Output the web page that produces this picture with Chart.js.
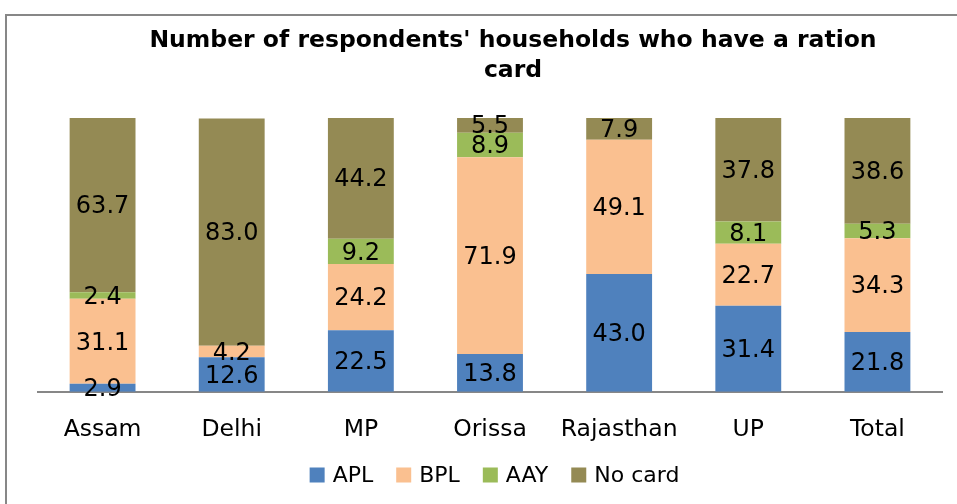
<!DOCTYPE html>
<html>
<head>
<meta charset="utf-8">
<script src="https://cdn.jsdelivr.net/npm/chart.js@4.4.0/dist/chart.umd.min.js"></script>
<style>
  html, body { margin: 0; padding: 0; background: #fff; overflow: hidden; }
  #wrap { position: relative; width: 957px; height: 504px; }
</style>
</head>
<body>
<div id="wrap"><canvas id="chart" width="957" height="504"></canvas></div>
<script>
// Chart data
const states = ['Assam', 'Delhi', 'MP', 'Orissa', 'Rajasthan', 'UP', 'Total'];
const apl    = [2.9, 12.6, 22.5, 13.8, 43.0, 31.4, 21.8];
const bpl    = [31.1, 4.2, 24.2, 71.9, 49.1, 22.7, 34.3];
const aay    = [2.4, 0, 9.2, 8.9, 0, 8.1, 5.3];
const noCard = [63.7, 83.0, 44.2, 5.5, 7.9, 37.8, 38.6];
const titleLines = ["Number of respondents' households who have a ration", 'card'];

const FONT = "'DejaVu Sans', sans-serif";

// frame + title drawn by hand (the original frame runs off the right/bottom edge)
const framePlugin = {
    id: 'frame',
    beforeDraw(chart) {
        const ctx = chart.ctx;
        ctx.save();
        ctx.fillStyle = '#fff';
        ctx.fillRect(0, 0, chart.width, chart.height);
        ctx.strokeStyle = '#878787';
        ctx.lineWidth = 2;
        ctx.beginPath();
        ctx.moveTo(6, chart.height + 5);
        ctx.lineTo(6, 15);
        ctx.lineTo(chart.width + 5, 15);
        ctx.stroke();
        ctx.restore();
    },
    afterDraw(chart) {
        const ctx = chart.ctx;
        ctx.save();
        ctx.fillStyle = '#000';
        ctx.font = 'bold 23.5px ' + FONT;
        ctx.textAlign = 'center';
        ctx.textBaseline = 'middle';
        titleLines.forEach((line, i) => ctx.fillText(line, 513, 41 + i * 30));

        // legend, built from the datasets
        ctx.font = '22px ' + FONT;
        ctx.textAlign = 'left';
        const box = 15, gap = 8, spacing = 23;
        const items = chart.data.datasets.map(ds => ({
            label: ds.label, color: ds.backgroundColor,
            w: box + gap + ctx.measureText(ds.label).width
        }));
        const total = items.reduce((s, it) => s + it.w, 0) + spacing * (items.length - 1);
        let x = 494.5 - total / 2;
        const y = 475;
        items.forEach(it => {
            ctx.fillStyle = it.color;
            ctx.fillRect(x, y - 7.5, box, box);
            ctx.fillStyle = '#000';
            ctx.fillText(it.label, x + box + gap, y + 1);
            x += it.w + spacing;
        });
        ctx.restore();
    }
};

// value labels in the middle of each segment
const valueLabels = {
    id: 'valueLabels',
    afterDatasetsDraw(chart) {
        const ctx = chart.ctx;
        ctx.save();
        ctx.fillStyle = '#000';
        ctx.font = '24px ' + FONT;
        ctx.textAlign = 'center';
        ctx.textBaseline = 'middle';
        chart.data.datasets.forEach((ds, di) => {
            const meta = chart.getDatasetMeta(di);
            meta.data.forEach((bar, i) => {
                const v = ds.data[i];
                if (!v) return;
                ctx.fillText(v.toFixed(1), bar.x, (bar.y + bar.base) / 2 + 2);
            });
        });
        ctx.restore();
    }
};

new Chart(document.getElementById('chart'), {
    type: 'bar',
    data: {
        labels: states,
        datasets: [
            { label: 'APL', data: apl, backgroundColor: '#4F81BD' },
            { label: 'BPL', data: bpl, backgroundColor: '#FAC090' },
            { label: 'AAY', data: aay, backgroundColor: '#9BBB59' },
            { label: 'No card', data: noCard, backgroundColor: '#948A54' }
        ]
    },
    options: {
        responsive: false,
        animation: false,
        events: [],
        layout: { padding: { left: 38, right: 15, top: 118, bottom: 36 } },
        datasets: { bar: { categoryPercentage: 1, barPercentage: 0.51 } },
        scales: {
            x: {
                stacked: true,
                grid: { display: false, drawTicks: false },
                border: { color: '#878787', width: 2 },
                ticks: { color: '#000', font: { family: FONT, size: 23.5 }, padding: 24 }
            },
            y: {
                stacked: true,
                display: false,
                min: 0,
                max: 100
            }
        },
        plugins: {
            title: { display: false },
            tooltip: { enabled: false },
            legend: { display: false }
        }
    },
    plugins: [framePlugin, valueLabels]
});
</script>
</body>
</html>
